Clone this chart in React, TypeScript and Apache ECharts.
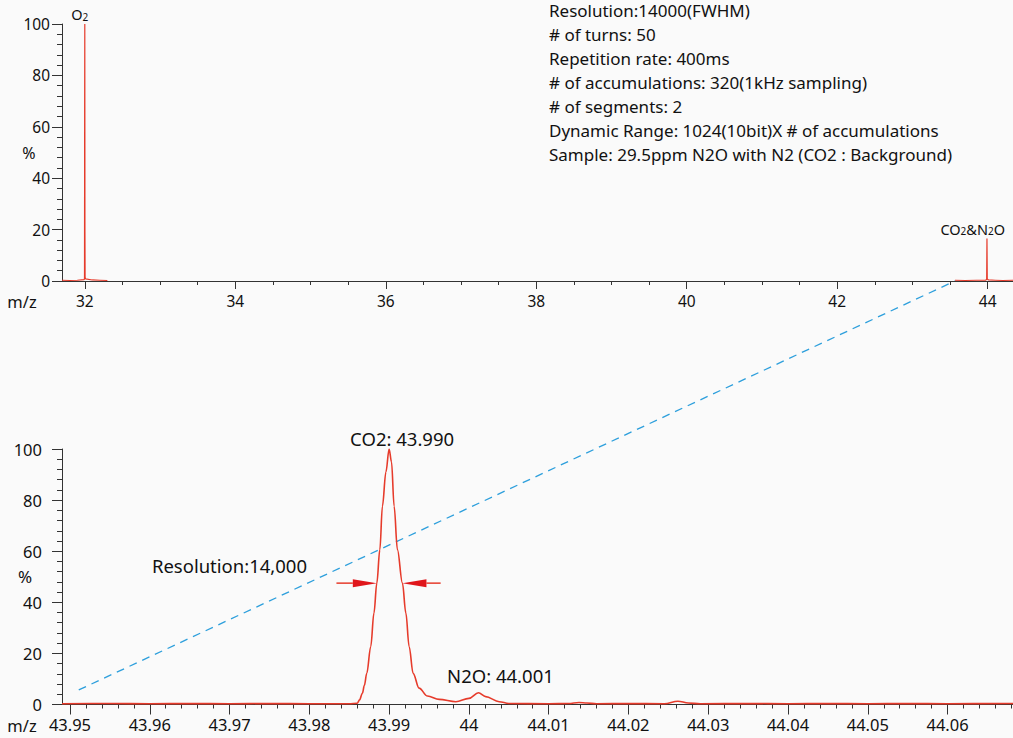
import React, { useEffect, useRef } from "react";
import * as echarts from "echarts";

const FONT = '"Noto Sans", "Open Sans", sans-serif';
const RED = "#e63b2b";
const BLUE = "#2d9fdc";
const AXIS = "#333333";
const TEXT = "#111111";

const infoLines = [
  "Resolution:14000(FWHM)",
  "# of turns: 50",
  "Repetition rate: 400ms",
  "# of accumulations: 320(1kHz sampling)",
  "# of segments: 2",
  "Dynamic Range: 1024(10bit)X # of accumulations",
  "Sample: 29.5ppm N2O with N2 (CO2 : Background)",
];

// top panel: full m/z range (two acquisition segments)
const topTicks = [32, 34, 36, 38, 40, 42, 44];
const o2SegX = [31.697, 31.8, 31.9, 31.99, 31.996, 31.998, 32.0, 32.002, 32.004, 32.01, 32.1, 32.2, 32.3];
const o2SegY = [0.3, 0.2, 0.3, 0.5, 1, 66, 100, 19, 1.5, 0.8, 0.4, 0.3, 0.2];
const co2SegX = [43.565, 43.7, 43.85, 43.97, 43.986, 43.99, 43.994, 44.01, 44.1, 44.2, 44.336];
const co2SegY = [0.3, 0.2, 0.3, 0.3, 0.6, 16.5, 0.8, 0.4, 0.3, 0.2, 0.3];

// bottom panel: zoom on m/z 44
const bottomTicks = [43.95, 43.96, 43.97, 43.98, 43.99, 44.0, 44.01, 44.02, 44.03, 44.04, 44.05, 44.06];
const zoomX = [
  43.949, 43.955, 43.96, 43.965, 43.97, 43.975, 43.98, 43.985, 43.986, 43.9863, 43.98665, 43.9869, 43.9872, 43.9877,
  43.9881, 43.98846, 43.98884, 43.98916, 43.9896, 43.99, 43.9903, 43.99063, 43.99104, 43.99167,
  43.9921, 43.99251, 43.99301, 43.99376, 43.99481, 43.99628, 43.99837, 44.0, 44.0012, 44.0021,
  44.0038, 44.005, 44.01, 44.0125, 44.0138, 44.0148, 44.016, 44.02, 44.0245, 44.0262, 44.0275,
  44.029, 44.035, 44.04, 44.045, 44.05, 44.055, 44.06, 44.0682,
];
const zoomY = [
  0.3, 0.4, 0.3, 0.4, 0.3, 0.4, 0.3, 0.3, 0.5, 1.8, 4.4, 7.5, 12.2, 22.7,
  35.8, 47.5, 60.6, 77.6, 91, 100, 95, 77.6, 60.6, 47.5,
  35.8, 22.7, 12.2, 6.4, 3.3, 2.0, 1.1, 2.4, 4.6, 3.1,
  1.1, 0.4, 0.3, 0.4, 0.8, 0.6, 0.3, 0.4, 0.3, 1.3, 0.6,
  0.3, 0.4, 0.3, 0.4, 0.3, 0.4, 0.3, 0.4,
];

const halfMax = 47.5;
const fwhmLeft = 43.98846;
const fwhmRight = 43.99167;
const arrowFromLeft = 43.9834;
const arrowFromRight = 43.99646;
const co2Peak = [43.99, 100];
const n2oPeak = [44.0012, 4.6];
const zoomLineStart = [43.9511, 5.7];
const zoomLineEnd = [43.565, 0];

const zip = (xs: number[], ys: number[]) => xs.map((x, i) => [x, ys[i]]);

function xAxisCfg(grid: number, min: number, max: number, split: number, ticks: number[], minorSplit: number, fontSize: number, margin: number, majorLen: number, minorLen: number) {
  return {
    gridIndex: grid,
    type: "value",
    min,
    max,
    splitNumber: split,
    splitLine: { show: false },
    axisLine: { lineStyle: { color: AXIS, width: 1 } },
    axisTick: { show: true, length: majorLen, customValues: ticks, lineStyle: { color: AXIS, width: 1 } },
    minorTick: { show: true, splitNumber: minorSplit, length: minorLen, lineStyle: { color: AXIS, width: 1 } },
    minorSplitLine: { show: false },
    axisLabel: { customValues: ticks, fontSize, color: TEXT, margin, fontFamily: FONT },
  };
}

function yAxisCfg(grid: number, fontSize: number, margin: number) {
  return {
    gridIndex: grid,
    type: "value",
    min: 0,
    max: 100,
    interval: 20,
    splitLine: { show: false },
    axisLine: { show: true, lineStyle: { color: AXIS, width: 1 } },
    axisTick: { show: true, length: 10, lineStyle: { color: AXIS, width: 1 } },
    minorTick: { show: true, splitNumber: 5, length: 5, lineStyle: { color: AXIS, width: 1 } },
    axisLabel: { fontSize, color: TEXT, margin, fontFamily: FONT },
  };
}

export default function App() {
  const ref = useRef<HTMLDivElement>(null);

  useEffect(() => {
    if (!ref.current) return;
    const chart = echarts.init(ref.current, undefined, { renderer: "svg" });
    chart.setOption({
      animation: false,
      backgroundColor: "#fafafa",
      textStyle: { fontFamily: FONT },
      grid: [
        { left: 62, top: 24, width: 951, height: 257 },
        { left: 62, top: 449, width: 951, height: 255.5 },
      ],
      xAxis: [
        xAxisCfg(0, 31.697, 44.336, 6, topTicks, 4, 15.5, 12, 8, 4),
        xAxisCfg(1, 43.949, 44.0682, 10, bottomTicks, 5, 16.5, 11, 10, 4),
      ],
      yAxis: [yAxisCfg(0, 15.5, 12), yAxisCfg(1, 16.5, 20)],
      series: [
        {
          type: "line", xAxisIndex: 0, yAxisIndex: 0, showSymbol: false, data: zip(o2SegX, o2SegY),
          lineStyle: { color: RED, width: 1.2 }, itemStyle: { color: RED },
        },
        {
          type: "line", xAxisIndex: 0, yAxisIndex: 0, showSymbol: false, data: zip(co2SegX, co2SegY),
          lineStyle: { color: RED, width: 1.2 }, itemStyle: { color: RED },
        },
        {
          type: "line", xAxisIndex: 1, yAxisIndex: 1, showSymbol: false, data: zip(zoomX, zoomY),
          smooth: 0.35, smoothMonotone: "x",
          lineStyle: { color: RED, width: 1.6 }, itemStyle: { color: RED },
        },
      ],
    });

    const px = (g: number, v: number[]) => chart.convertToPixel({ xAxisIndex: g, yAxisIndex: g }, v) as number[];

    const s = px(1, zoomLineStart);
    const e = px(0, zoomLineEnd);
    const la = px(1, [arrowFromLeft, halfMax]);
    const lt = px(1, [fwhmLeft, halfMax]);
    const ra = px(1, [arrowFromRight, halfMax]);
    const rt = px(1, [fwhmRight, halfMax]);
    const cp = px(1, co2Peak);
    const np = px(1, n2oPeak);
    const o2 = px(0, [32, 100]);
    const c44 = px(0, [44, 16.5]);

    const headLen = 24;
    const headHalf = 4;
    const subRich = {
      a: { fontSize: 14.5, fontFamily: FONT, fill: TEXT },
      s: { fontSize: 10, fontFamily: FONT, fill: TEXT, verticalAlign: "bottom" },
    };

    chart.setOption({
      graphic: [
        {
          type: "text", left: 549, top: -2,
          style: { text: infoLines.join("\n"), fontSize: 17, lineHeight: 24, fontFamily: FONT, fill: TEXT },
        },
        { type: "text", x: 22, y: 301, style: { text: "m/z", fontSize: 16.5, fontFamily: FONT, fill: TEXT, align: "center", verticalAlign: "middle" } },
        { type: "text", x: 22, y: 725, style: { text: "m/z", fontSize: 16.5, fontFamily: FONT, fill: TEXT, align: "center", verticalAlign: "middle" } },
        { type: "text", x: 29, y: 153, style: { text: "%", fontSize: 16, fontFamily: FONT, fill: TEXT, align: "center", verticalAlign: "middle" } },
        { type: "text", x: 25, y: 576, style: { text: "%", fontSize: 17, fontFamily: FONT, fill: TEXT, align: "center", verticalAlign: "middle" } },
        {
          type: "text", x: o2[0] - 5, y: o2[1] - 10,
          style: { text: "{a|O}{s|2}", rich: subRich, align: "center", verticalAlign: "middle" },
        },
        {
          type: "text", x: c44[0] - 15, y: c44[1] - 10,
          style: { text: "{a|CO}{s|2}{a|&N}{s|2}{a|O}", rich: subRich, align: "center", verticalAlign: "middle" },
        },
        {
          type: "line", silent: true,
          shape: { x1: s[0], y1: s[1], x2: e[0], y2: e[1] },
          style: { stroke: BLUE, lineWidth: 1.3, lineDash: [8, 6] },
        },
        {
          type: "text", x: cp[0] + 13, y: cp[1] - 11,
          style: { text: "CO2: 43.990", fontSize: 18.5, fontFamily: FONT, fill: TEXT, align: "center", verticalAlign: "middle" },
        },
        {
          type: "text", x: np[0] + 22, y: np[1] - 17,
          style: { text: "N2O: 44.001", fontSize: 18.5, fontFamily: FONT, fill: TEXT, align: "center", verticalAlign: "middle" },
        },
        {
          type: "text", x: la[0] - 107, y: la[1] - 18,
          style: { text: "Resolution:14,000", fontSize: 18.5, fontFamily: FONT, fill: TEXT, align: "center", verticalAlign: "middle" },
        },
        { type: "line", shape: { x1: la[0], y1: la[1], x2: lt[0] - headLen, y2: lt[1] }, style: { stroke: RED, lineWidth: 1.5 } },
        {
          type: "polygon",
          shape: { points: [[lt[0], lt[1]], [lt[0] - headLen, lt[1] - headHalf], [lt[0] - headLen, lt[1] + headHalf]] },
          style: { fill: "#e0161b" },
        },
        { type: "line", shape: { x1: ra[0], y1: ra[1], x2: rt[0] + headLen, y2: rt[1] }, style: { stroke: RED, lineWidth: 1.5 } },
        {
          type: "polygon",
          shape: { points: [[rt[0], rt[1]], [rt[0] + headLen, rt[1] - headHalf], [rt[0] + headLen, rt[1] + headHalf]] },
          style: { fill: "#e0161b" },
        },
      ],
    });

    return () => chart.dispose();
  }, []);

  return <div ref={ref} style={{ position: "fixed", left: 0, top: 0, width: 1013, height: 738 }} />;
}
